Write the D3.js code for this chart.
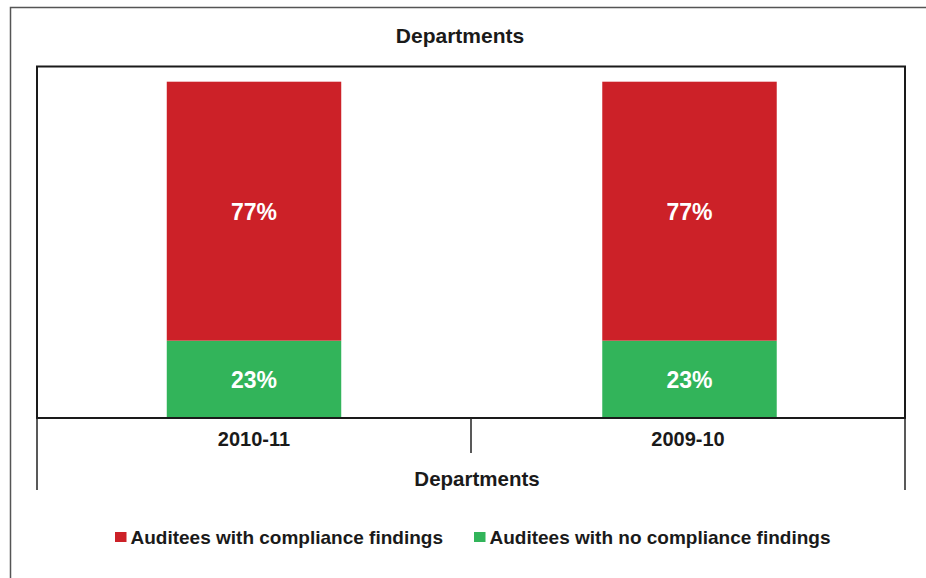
<!DOCTYPE html>
<html>
<head>
<meta charset="utf-8">
<script src="https://cdn.jsdelivr.net/npm/d3@7"></script>
<style>
  html, body { margin: 0; padding: 0; background: #fff; }
  svg { display: block; font-family: "Liberation Sans", Arial, sans-serif; }
</style>
</head>
<body>
<svg id="chart" width="926" height="578"></svg>
<script>
// Data
const categories = ["2010-11", "2009-10"];
const seriesNames = ["Auditees with no compliance findings", "Auditees with compliance findings"];
const noFindings = [0.23, 0.23];
const withFindings = [0.77, 0.77];
const chartTitle = "Departments";
const axisTitle = "Departments";
const legendOrder = ["Auditees with compliance findings", "Auditees with no compliance findings"];

const colors = {
  "Auditees with compliance findings": "#cc2128",
  "Auditees with no compliance findings": "#32b45a"
};

const svg = d3.select("#chart");

// Outer frame
svg.append("rect")
  .attr("x", 10.5).attr("y", 7.5)
  .attr("width", 940).attr("height", 600)
  .attr("fill", "none").attr("stroke", "#555").attr("stroke-width", 1.5);

const plot = { left: 37, right: 905, top: 66.5, bottom: 418 };

const x = d3.scaleBand().domain(categories).range([plot.left, plot.right]).padding(0);
const y = d3.scaleLinear().domain([0, 1]).range([plot.bottom, 81.7]);

const barW = x.bandwidth() * 0.402;

const rows = categories.map((c, i) => ({
  cat: c,
  segs: [
    { name: seriesNames[0], y0: 0, y1: noFindings[i], v: noFindings[i] },
    { name: seriesNames[1], y0: noFindings[i], y1: noFindings[i] + withFindings[i], v: withFindings[i] }
  ]
}));

const g = svg.append("g");
rows.forEach((r, i) => {
  const cx = x(r.cat) + x.bandwidth() / 2 + (i === 0 ? 0 : 1.5);
  r.segs.forEach(s => {
    g.append("rect")
      .attr("x", cx - barW / 2)
      .attr("width", barW)
      .attr("y", y(s.y1))
      .attr("height", y(s.y0) - y(s.y1))
      .attr("fill", colors[s.name]);
    g.append("text")
      .attr("x", cx)
      .attr("y", (y(s.y0) + y(s.y1)) / 2 + 8.5)
      .attr("text-anchor", "middle")
      .attr("fill", "#fff")
      .attr("font-weight", "bold")
      .attr("font-size", "23px")
      .text(d3.format(".0%")(s.v));
  });
});

// Plot area border
svg.append("rect")
  .attr("x", plot.left).attr("y", plot.top)
  .attr("width", plot.right - plot.left).attr("height", plot.bottom - plot.top)
  .attr("fill", "none").attr("stroke", "#1a1a1a").attr("stroke-width", 2);

// Category axis (multi-level style ticks)
const edges = [x(categories[0]), x(categories[1]), plot.right];
edges.forEach((ex, i) => {
  const long = (i === 0 || i === edges.length - 1);
  svg.append("line")
    .attr("x1", ex).attr("x2", ex)
    .attr("y1", plot.bottom).attr("y2", long ? 490 : 453)
    .attr("stroke", "#222").attr("stroke-width", 1.5);
});

svg.append("g").selectAll("text").data(categories).join("text")
  .attr("x", d => x(d) + x.bandwidth() / 2)
  .attr("y", 446)
  .attr("text-anchor", "middle")
  .attr("font-weight", "bold")
  .attr("font-size", "20px")
  .attr("fill", "#1a1a1a")
  .text(d => d);

svg.append("text")
  .attr("x", 477).attr("y", 485.5)
  .attr("text-anchor", "middle")
  .attr("font-weight", "bold").attr("font-size", "20.5px").attr("fill", "#1a1a1a")
  .text(axisTitle);

svg.append("text")
  .attr("x", 460).attr("y", 43)
  .attr("text-anchor", "middle")
  .attr("font-weight", "bold").attr("font-size", "21px").attr("fill", "#1a1a1a")
  .text(chartTitle);

// Legend
const legendX = [115, 474];
legendOrder.forEach((name, i) => {
  const lg = svg.append("g").attr("transform", `translate(${legendX[i]},0)`);
  lg.append("rect").attr("x", 0).attr("y", 532).attr("width", 11.5).attr("height", 10)
    .attr("fill", colors[name]);
  lg.append("text").attr("x", 15.5).attr("y", 543.5)
    .attr("font-weight", "bold").attr("font-size", "19px").attr("fill", "#1a1a1a")
    .text(name);
});
</script>
</body>
</html>
